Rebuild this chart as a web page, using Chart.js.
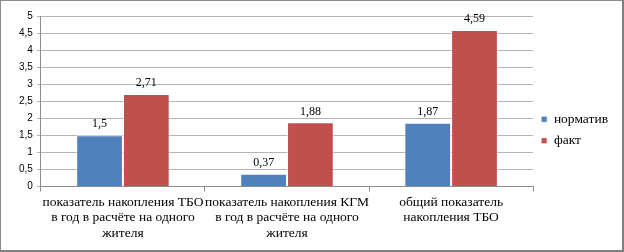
<!doctype html>
<html lang="ru">
<head>
<meta charset="utf-8">
<title>Накопление ТБО</title>
<style>
	html, body { margin: 0; padding: 0; background: #fff; }
	.frame {
		width: 624px; height: 252px; box-sizing: border-box;
		border-left: 1px solid #8c8c8c; border-top: 1px solid #8c8c8c;
		border-right: 2px solid #7f7f7f; border-bottom: 2px solid #7f7f7f;
	}
	.chart-container { position: relative; width: 621px; height: 249px; }
</style>
<script src="https://cdn.jsdelivr.net/npm/chart.js@4/dist/chart.umd.min.js"></script>
</head>
<body>
<div class="frame">
	<div class="chart-container">
		<canvas id="tboChart"></canvas>
	</div>
</div>
<script>
	// Chart data
	const categories = [
		['показатель накопления ТБО', 'в год в расчёте на одного', 'жителя'],
		['показатель накопления КГМ', 'в год в расчёте на одного', 'жителя'],
		['общий показатель', 'накопления ТБО']
	];
	const normValues = [1.5, 0.37, 1.87];
	const factValues = [2.71, 1.88, 4.59];
	const seriesNames = ['норматив', 'факт'];
	const yTicks = [0, 0.5, 1, 1.5, 2, 2.5, 3, 3.5, 4, 4.5, 5];

	const serif = 'Liberation Serif, Times New Roman, serif';
	Chart.defaults.font.family = serif;

	// draw value labels above the bars (no datalabels plugin offline)
	const valueLabels = {
		id: 'valueLabels',
		afterDatasetsDraw(chart) {
			const ctx = chart.ctx;
			ctx.save();
			ctx.font = '12px ' + serif;
			ctx.fillStyle = '#000';
			ctx.textAlign = 'center';
			ctx.textBaseline = 'middle';
			chart.data.datasets.forEach((ds, i) => {
				chart.getDatasetMeta(i).data.forEach((bar, j) => {
					var txt = String(ds.data[j]).replace('.', ',');
					ctx.fillText(txt, bar.x, bar.y - 11);
				});
			});
			ctx.restore();
		}
	};

	var options = {
		animation: false,
		responsive: true,
		maintainAspectRatio: false,
		layout: { padding: { left: 14, top: 15, right: 4, bottom: 6 } },
		plugins: {
			title: { display: false },
			tooltip: { enabled: false },
			legend: {
				position: 'right',
				labels: {
					boxWidth: 6,
					boxHeight: 6,
					padding: 8,
					color: '#000',
					font: { family: serif, size: 13.5 }
				}
			}
		},
		scales: {
			x: {
				grid: {
					offset: true,
					drawOnChartArea: false,
					drawTicks: true,
					tickLength: 5,
					color: '#8c8c8c'
				},
				border: { color: '#8c8c8c' },
				ticks: {
					color: '#000',
					maxRotation: 0,
					autoSkip: false,
					padding: 3,
					font: { family: serif, size: 13.5, lineHeight: 1.15 }
				}
			},
			y: {
				min: 0,
				max: 5,
				afterBuildTicks: axis => { axis.ticks = yTicks.map(v => ({ value: v })); },
				grid: { color: '#b4b4b4', tickLength: 4 },
				border: { color: '#8c8c8c' },
				ticks: {
					color: '#000',
					padding: 4,
					font: { family: 'Liberation Sans, Arial, sans-serif', size: 10 },
					callback: v => String(v).replace('.', ',')
				}
			}
		}
	};

	new Chart(document.getElementById('tboChart'), {
		type: 'bar',
		data: {
			labels: categories,
			datasets: [{
				label: seriesNames[0],
				data: normValues,
				backgroundColor: '#4f81bd',
				borderColor: 'rgba(255,255,255,0.7)',
				borderWidth: 1,
				categoryPercentage: 0.57,
				barPercentage: 1
			}, {
				label: seriesNames[1],
				data: factValues,
				backgroundColor: '#c0504d',
				borderColor: 'rgba(255,255,255,0.7)',
				borderWidth: 1,
				categoryPercentage: 0.57,
				barPercentage: 1
			}]
		},
		options: options,
		plugins: [valueLabels]
	});
</script>
</body>
</html>
